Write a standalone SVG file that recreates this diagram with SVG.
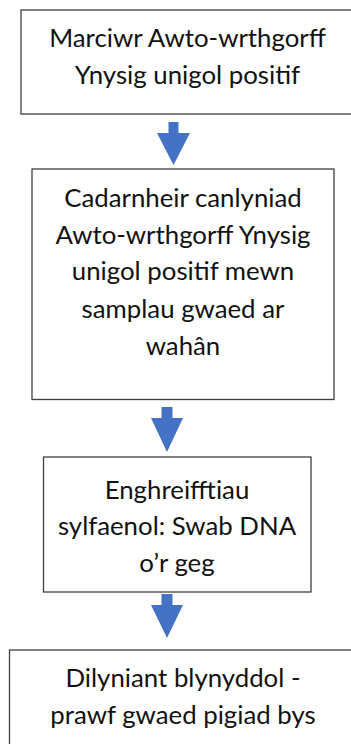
<svg xmlns="http://www.w3.org/2000/svg" width="351" height="744" viewBox="0 0 351 744">
<style>
.box{fill:#fff;stroke:#3f3f3f;stroke-width:1.3}
.t{font-family:Lato,"Open Sans","Liberation Sans",sans-serif;font-size:25.8px;fill:#111;text-anchor:middle}
.arr{fill:#4472c4}
</style>
<rect width="351" height="744" fill="#fff"/>
<g id="connectors">
<path class="arr" d="M168.5 122 H178.5 V133 H190 L173.5 165 L157 133 H168.5 Z"/>
<path class="arr" d="M161.5 407 H172.5 V418 H183 L167 452 L151 418 H161.5 Z"/>
<path class="arr" d="M161.5 594 H172.5 V605 H183 L167 638 L151 605 H161.5 Z"/>
</g>
<g id="n1">
<rect class="box" x="21" y="10" width="345" height="104"/>
<text class="t" x="187.5" y="47">Marciwr Awto-wrthgorff</text>
<text class="t" x="187.5" y="84">Ynysig unigol positif</text>
</g>
<g id="n2">
<rect class="box" x="32" y="169" width="302" height="230.5"/>
<text class="t" x="183" y="207">Cadarnheir canlyniad</text>
<text class="t" x="183" y="243.5">Awto-wrthgorff Ynysig</text>
<text class="t" x="183" y="280">unigol positif mewn</text>
<text class="t" x="183" y="317.5">samplau gwaed ar</text>
<text class="t" x="183" y="355">wahân</text>
</g>
<g id="n3">
<rect class="box" x="43.5" y="457" width="267.5" height="135"/>
<text class="t" x="177" y="498.5">Enghreifftiau</text>
<text class="t" x="177" y="535">sylfaenol: Swab DNA</text>
<text class="t" x="177" y="572">o’r geg</text>
</g>
<g id="n4">
<rect class="box" x="9.5" y="650" width="360" height="120"/>
<text class="t" x="183" y="687">Dilyniant blynyddol -</text>
<text class="t" x="183" y="723.5">prawf gwaed pigiad bys</text>
</g>
</svg>
